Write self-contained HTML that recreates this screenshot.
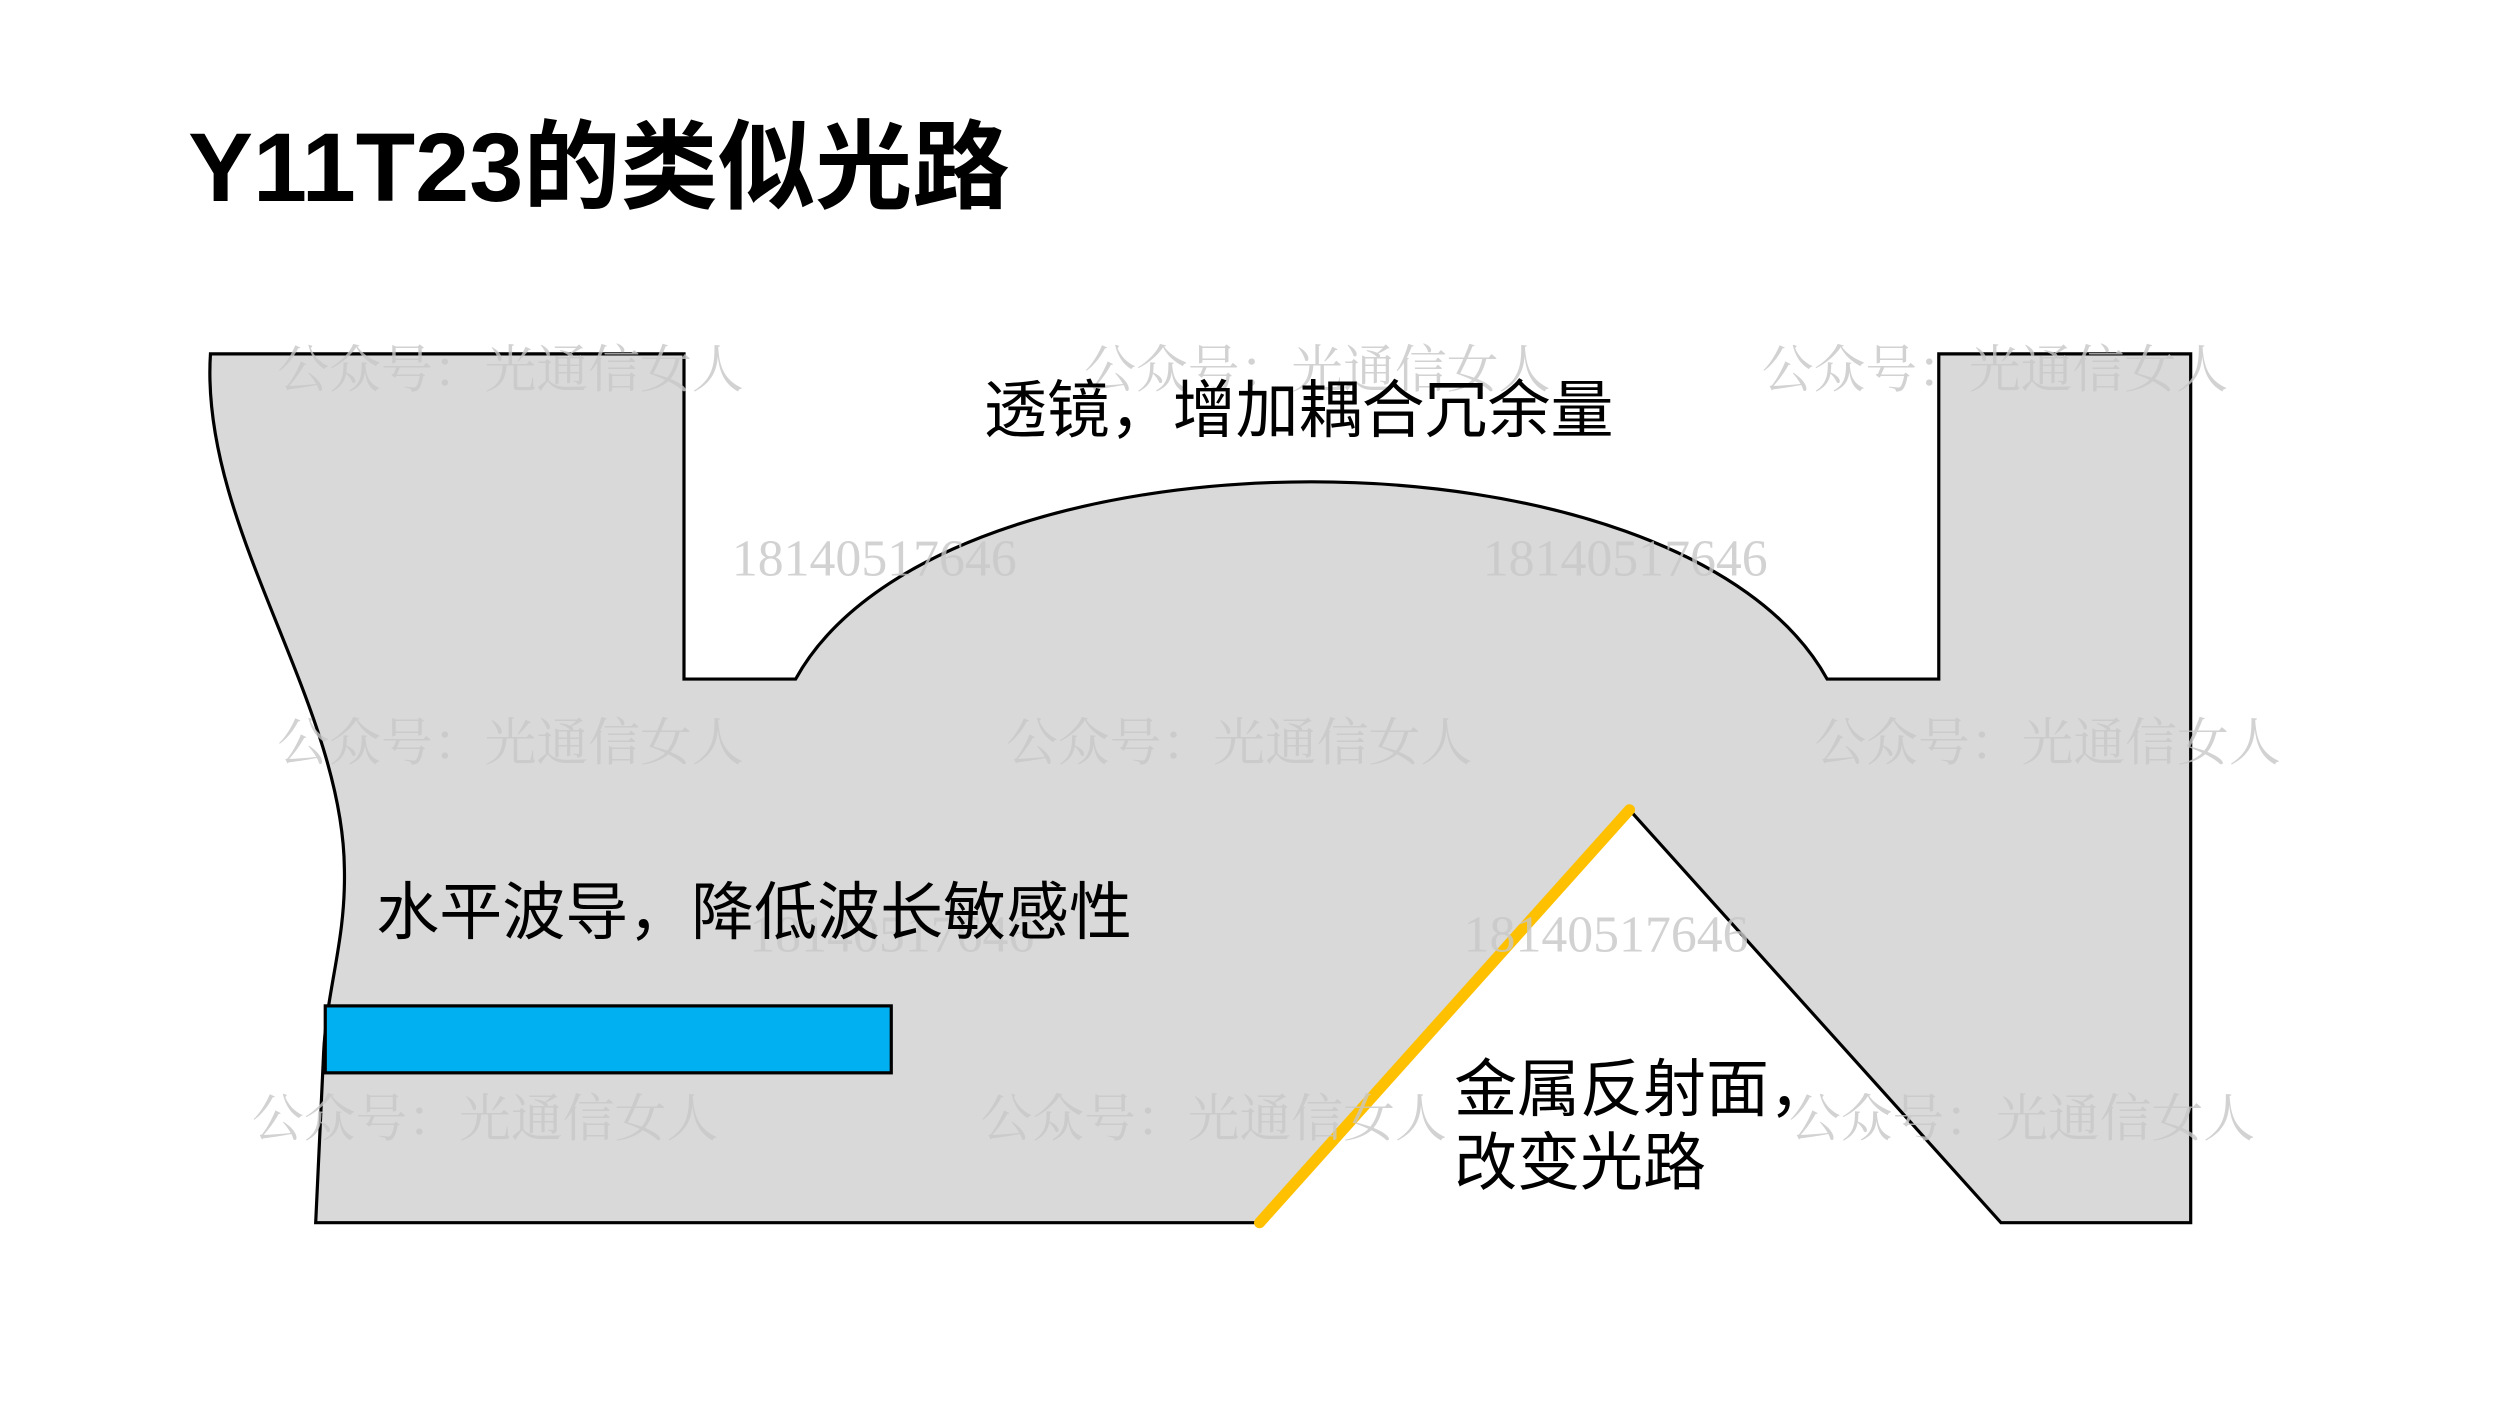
<!DOCTYPE html>
<html><head><meta charset="utf-8"><style>
html,body{margin:0;padding:0;background:#fff;}
svg{display:block;}
</style></head><body>
<svg width="2500" height="1406" viewBox="0 0 1568 882" preserveAspectRatio="none" xmlns="http://www.w3.org/2000/svg">
<rect width="1568" height="882" fill="#fff"/>
<text x="118" y="126" font-family="'Liberation Sans','Noto Sans CJK SC',sans-serif" font-size="61" font-weight="bold" fill="#000">Y11T23的类似光路</text>
<path d="M132,222 L429,222 L429,426 L499,426 C590,261 1055,261 1146,426 L1216,426 L1216,222 L1374,222 L1374,767 L1255,767 L1022,508 L790,767 L198,767 L203,660 C205,620 217,590 216,545 C215,440 125,330 132,222 Z" fill="#d9d9d9" stroke="#000" stroke-width="2"/>
<rect x="204" y="631" width="355" height="42" fill="#00b0f0" stroke="#000" stroke-width="2"/>
<line x1="790" y1="767" x2="1022" y2="508" stroke="#ffc000" stroke-width="7" stroke-linecap="round"/>
<g font-family="'Liberation Serif','Noto Serif CJK SC',serif" font-size="32.5" fill="#c8c8c8" opacity="0.8">
<text x="174" y="243">公众号：光通信女人</text>
<text x="680" y="243">公众号：光通信女人</text>
<text x="1105" y="243">公众号：光通信女人</text>
<text x="174" y="477">公众号：光通信女人</text>
<text x="631" y="477">公众号：光通信女人</text>
<text x="1138" y="477">公众号：光通信女人</text>
<text x="158" y="713">公众号：光通信女人</text>
<text x="615" y="713">公众号：光通信女人</text>
<text x="1122" y="713">公众号：光通信女人</text>
<text x="459" y="361">18140517646</text>
<text x="930" y="361">18140517646</text>
<text x="470" y="597">18140517646</text>
<text x="918" y="597">18140517646</text>
</g>
<g font-family="'Liberation Sans','Noto Sans CJK SC',sans-serif" font-size="39.5" fill="#000">
<text x="617" y="271">透镜，增加耦合冗余量</text>
<text x="236" y="586">水平波导，降低波长敏感性</text>
<text x="912" y="697">金属反射面，</text>
<text x="912" y="743">改变光路</text>
</g>
</svg>
</body></html>
